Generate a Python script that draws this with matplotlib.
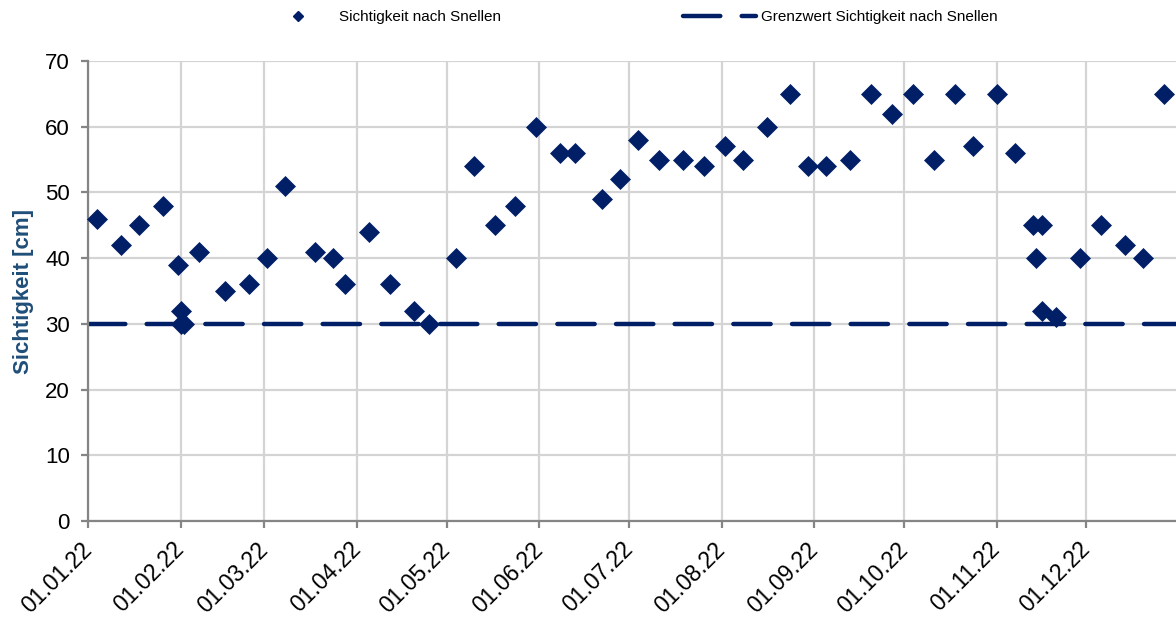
import matplotlib
matplotlib.use("Agg")
import matplotlib.pyplot as plt
import matplotlib.dates as mdates
from matplotlib.lines import Line2D
import numpy as np

plt.rcParams["font.family"] = ["Liberation Sans", "DejaVu Sans"]

mess_datum = [
    "2022-01-04", "2022-01-12", "2022-01-18", "2022-01-26", "2022-01-31",
    "2022-02-01", "2022-02-01", "2022-02-02", "2022-02-07", "2022-02-16",
    "2022-02-24", "2022-03-02", "2022-03-08", "2022-03-18", "2022-03-24",
    "2022-03-28", "2022-04-05", "2022-04-12", "2022-04-20", "2022-04-25",
    "2022-05-04", "2022-05-10", "2022-05-17", "2022-05-24", "2022-05-31",
    "2022-06-08", "2022-06-13", "2022-06-22", "2022-06-28", "2022-07-04",
    "2022-07-11", "2022-07-19", "2022-07-26", "2022-08-02", "2022-08-08",
    "2022-08-16", "2022-08-24", "2022-08-30", "2022-09-05", "2022-09-13",
    "2022-09-20", "2022-09-27", "2022-10-04", "2022-10-11", "2022-10-18",
    "2022-10-24", "2022-11-01", "2022-11-07", "2022-11-13", "2022-11-14",
    "2022-11-16", "2022-11-16", "2022-11-21", "2022-11-29", "2022-12-06",
    "2022-12-14", "2022-12-20", "2022-12-27",
]
sichtigkeit = [
    46, 42, 45, 48, 39,
    32, 30, 30, 41, 35,
    36, 40, 51, 41, 40,
    36, 44, 36, 32, 30,
    40, 54, 45, 48, 60,
    56, 56, 49, 52, 58,
    55, 55, 54, 57, 55,
    60, 65, 54, 54, 55,
    65, 62, 65, 55, 65,
    57, 65, 56, 45, 40,
    45, 32, 31, 40, 45,
    42, 40, 65,
]
grenzwert = 30
y_ticks = [0, 10, 20, 30, 40, 50, 60, 70]

NAVY = "#001f66"
GRID = "#d4d4d4"
SPINE = "#858585"

x = np.array(mess_datum, dtype="datetime64[D]")

fig = plt.figure(figsize=(11.76, 6.18), dpi=100)
ax = fig.add_axes([88 / 1176, 97 / 618, 1091 / 1176, 460 / 618])

ax.axhline(grenzwert, color=NAVY, lw=3.2, dashes=(8.4, 4.8),
           dash_capstyle="round", zorder=2)
ax.plot(x, sichtigkeit, ls="none", marker="D", ms=10.6, color=NAVY,
        mec=NAVY, mew=0.5, zorder=3, clip_on=False)

ax.set_xlim(np.datetime64("2022-01-01"), np.datetime64("2023-01-01"))
ax.set_ylim(0, 70)
ax.set_yticks(y_ticks)
ax.xaxis.set_major_locator(mdates.MonthLocator())
ax.xaxis.set_major_formatter(mdates.DateFormatter("%d.%m.%y"))
ax.set_xticks(ax.get_xticks()[:-1])

ax.grid(True, color=GRID, lw=1.6, zorder=0)
ax.set_axisbelow(True)
for side in ("top", "right"):
    ax.spines[side].set_visible(False)
for side in ("left", "bottom"):
    ax.spines[side].set_color(SPINE)
    ax.spines[side].set_linewidth(1.6)
ax.tick_params(axis="both", direction="out", length=5, width=1.6, color=SPINE,
               labelsize=16, labelcolor="black")
ax.tick_params(axis="y", pad=8)
ax.tick_params(axis="x", pad=13)
for lab in ax.get_xticklabels():
    lab.set_rotation(45)
    lab.set_ha("right")
    lab.set_va("center")
    lab.set_rotation_mode("anchor")
    lab.set_fontsize(16.5)

ax.set_ylabel("Sichtigkeit [cm]", color="#1f4e79", fontsize=16,
              fontweight="bold", labelpad=8)

handles = [
    Line2D([], [], ls="none", marker="D", ms=4.6, color=NAVY),
    Line2D([], [], color=NAVY, lw=3.2, dashes=(8.4, 4.8), dash_capstyle="round"),
]
fig.legend(handles, ["Sichtigkeit nach Snellen", "Grenzwert Sichtigkeit nach Snellen"],
           loc="center left", bbox_to_anchor=(261 / 1176, 1 - 17 / 618), ncol=2,
           frameon=False, fontsize=11, handlelength=4.8, handletextpad=0.3,
           columnspacing=11.9, borderpad=0, borderaxespad=0)

fig.savefig("out.png", dpi=100, facecolor="white")
